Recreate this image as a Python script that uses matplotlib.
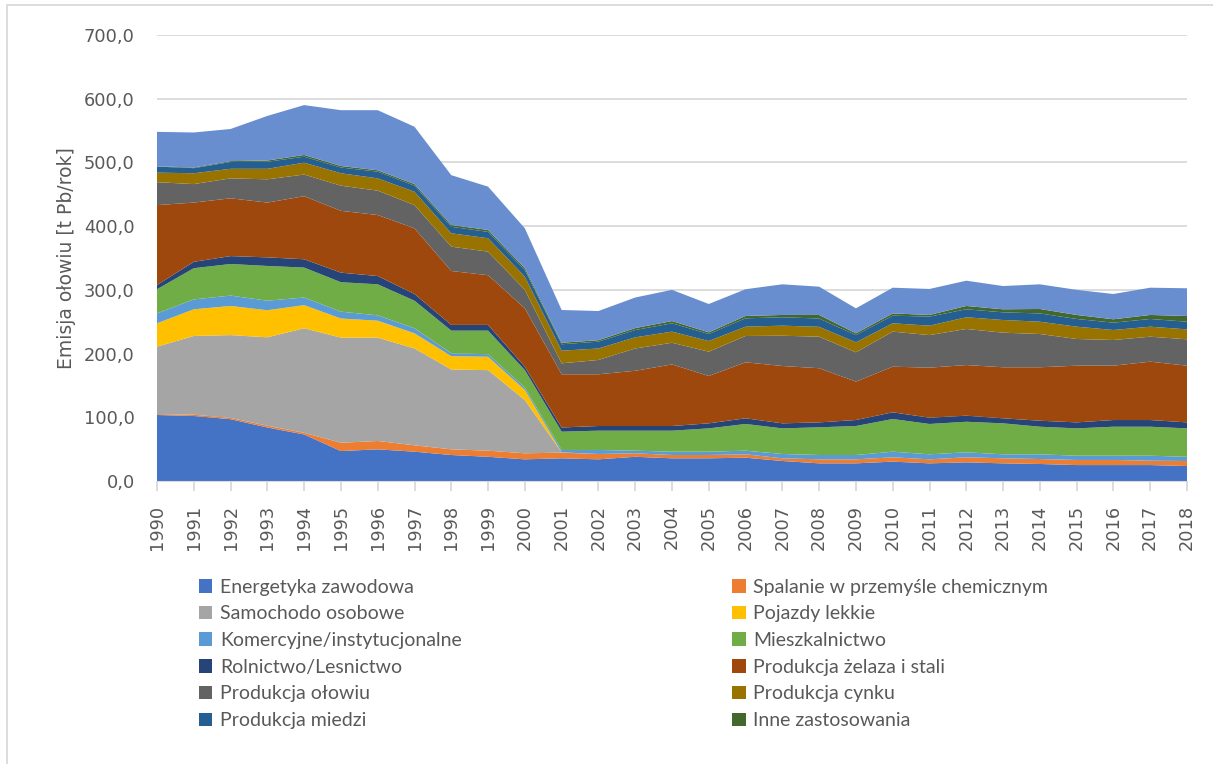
import matplotlib.pyplot as plt
import numpy as np
from matplotlib.patches import Patch, Rectangle
from matplotlib.ticker import FuncFormatter, MultipleLocator

plt.rcParams["font.family"] = ["DejaVu Sans"]

years = list(range(1990, 2019))

# Emission per source [t Pb/rok]
energetyka = [103.6, 102.0, 97.0, 84.0, 73.0, 47.0, 49.7, 46.0, 40.8, 38.0, 34.0, 35.6, 34.0, 38.0,
              35.6, 35.6, 36.6, 31.4, 27.7, 27.7, 30.4, 27.7, 29.3, 27.7, 26.7, 25.0, 25.0, 25.0, 23.5]
spalanie = [1.4, 2.0, 2.0, 2.7, 2.6, 13.0, 13.1, 10.0, 8.9, 9.6, 9.5, 8.9, 8.4, 5.5,
            5.2, 5.2, 5.3, 4.2, 6.3, 6.3, 6.8, 6.3, 7.9, 7.9, 7.8, 8.0, 8.0, 6.9, 7.9]
samochody = [105.8, 123.6, 130.0, 138.8, 164.1, 165.0, 162.2, 152.0, 125.3, 126.4, 83.5, 0.5, 0, 0,
             0, 0, 0, 0, 0, 0, 0, 0, 0, 0, 0, 0, 0, 0, 0]
pojazdy = [36.7, 41.9, 45.7, 42.5, 36.3, 30.0, 26.6, 23.8, 21.0, 21.0, 16.0, 0, 0, 0,
           0, 0, 0, 0, 0, 0, 0, 0, 0, 0, 0, 0, 0, 0, 0]
komercyjne = [15.5, 15.5, 16.3, 15.0, 12.0, 10.8, 8.4, 7.9, 4.4, 4.0, 3.5, 3.7, 6.3, 4.1,
              5.2, 5.2, 5.7, 6.8, 6.8, 6.8, 8.8, 7.9, 7.8, 6.3, 7.4, 6.7, 6.7, 7.8, 6.6]
mieszkalnictwo = [38.0, 49.0, 49.6, 54.5, 47.0, 46.2, 48.7, 43.3, 35.6, 37.0, 27.5, 28.7, 30.3, 31.4,
                  33.0, 36.6, 41.9, 40.2, 43.5, 45.5, 51.3, 47.6, 48.0, 48.6, 43.3, 42.9, 45.5, 45.5, 44.6]
rolnictwo = [6.6, 10.0, 12.4, 13.5, 13.0, 15.0, 13.0, 10.5, 9.0, 9.0, 5.4, 6.6, 7.3, 7.3,
             7.3, 7.9, 8.9, 7.9, 7.7, 9.4, 10.5, 9.9, 9.5, 7.9, 9.4, 9.4, 10.5, 10.5, 9.4]
zelazo = [125.4, 93.0, 90.7, 86.0, 99.0, 97.0, 95.8, 103.1, 84.6, 78.0, 91.6, 83.5, 81.2, 86.7,
          96.7, 74.3, 87.9, 90.0, 85.0, 60.3, 71.6, 78.5, 79.5, 80.1, 83.9, 89.0, 85.3, 91.6, 89.0]
olow = [36.0, 29.0, 31.3, 36.5, 34.0, 39.5, 38.2, 36.4, 38.2, 37.0, 29.0, 17.2, 22.5, 35.0,
        34.0, 38.2, 41.3, 47.5, 49.5, 46.0, 55.0, 51.1, 56.6, 54.3, 52.2, 41.9, 40.3, 39.2, 41.4]
cynk = [15.0, 17.0, 15.0, 16.5, 18.6, 19.5, 19.3, 21.0, 21.0, 21.0, 20.7, 19.8, 18.0, 17.5,
        17.4, 16.7, 14.6, 15.8, 15.5, 15.7, 13.1, 14.8, 18.4, 19.9, 19.3, 19.3, 15.7, 15.7, 15.6]
miedz = [9.5, 8.0, 10.7, 11.0, 9.4, 9.0, 10.5, 9.5, 10.2, 10.0, 10.3, 10.1, 10.7, 11.5,
         13.1, 11.0, 13.1, 13.2, 13.0, 11.3, 12.0, 14.2, 12.5, 12.0, 13.0, 12.1, 11.5, 12.1, 12.0]
inne = [0.5, 1.0, 1.3, 2.0, 2.7, 2.4, 2.2, 2.5, 2.8, 3.0, 3.0, 2.4, 2.3, 3.0,
        3.5, 2.6, 3.7, 3.6, 5.6, 2.8, 3.5, 2.6, 5.2, 4.8, 7.0, 6.3, 5.3, 6.3, 9.0]
# top layer, not listed in the legend
reszta = [54.0, 55.0, 50.5, 70.0, 78.3, 87.6, 94.3, 90.0, 78.2, 68.0, 62.6, 51.4, 45.8, 48.0,
          49.0, 44.5, 42.0, 48.1, 44.4, 39.2, 40.4, 40.8, 39.7, 36.5, 38.7, 39.4, 39.7, 42.8, 43.5]

labels = [
    "Energetyka zawodowa",
    "Spalanie w przemyśle chemicznym",
    "Samochodo osobowe",
    "Pojazdy lekkie",
    "Komercyjne/instytucjonalne",
    "Mieszkalnictwo",
    "Rolnictwo/Lesnictwo",
    "Produkcja żelaza i stali",
    "Produkcja ołowiu",
    "Produkcja cynku",
    "Produkcja miedzi",
    "Inne zastosowania",
]
colors = [
    "#4472C4", "#ED7D31", "#A5A5A5", "#FFC000", "#5B9BD5", "#70AD47",
    "#264478", "#9E480E", "#636363", "#997300", "#255E91", "#43682B",
]
series = [energetyka, spalanie, samochody, pojazdy, komercyjne, mieszkalnictwo,
          rolnictwo, zelazo, olow, cynk, miedz, inne]

text_color = "#595959"
grid_color = "#D9D9D9"

fig = plt.figure(figsize=(12.13, 7.64), dpi=100)
ax = fig.add_axes([157 / 1213, 1 - 481 / 764, 1030 / 1213, 446 / 764])

ax.stackplot(years, *series, reszta, colors=colors + ["#698ED0"], linewidth=0)

ax.set_xlim(1990, 2018)
ax.set_ylim(0, 700)
ax.yaxis.set_major_locator(MultipleLocator(100))
ax.yaxis.set_major_formatter(FuncFormatter(lambda v, p: f"{v:.1f}".replace(".", ",")))
ax.set_xticks(years)
ax.set_xticklabels([str(y) for y in years], rotation=90)

ax.grid(axis="y", color=grid_color, linewidth=1.3)
ax.set_axisbelow(True)
for s in ["top", "right", "left"]:
    ax.spines[s].set_visible(False)
ax.spines["bottom"].set_color(grid_color)
ax.tick_params(axis="y", length=0, pad=16, labelsize=12.8, labelcolor=text_color)
ax.tick_params(axis="x", length=7, color=grid_color, width=1.3, pad=10,
               labelsize=12.8, labelcolor=text_color)
ax.set_ylabel("Emisja ołowiu [t Pb/rok]", fontsize=13.5, color=text_color, labelpad=6)

# legend: row-wise order in two columns
handles = [Patch(facecolor=c, label=l) for c, l in zip(colors, labels)]
order = [0, 2, 4, 6, 8, 10, 1, 3, 5, 7, 9, 11]
fig.legend([handles[i] for i in order], [labels[i] for i in order],
           ncol=2, loc="upper left", bbox_to_anchor=(181 / 1213, 1 - 561 / 764),
           frameon=False, prop={"family": "Lato", "size": 14},
           handlelength=0.7, handleheight=0.7, handletextpad=0.4,
           labelspacing=0.5, columnspacing=13.9, labelcolor=text_color)

# outer chart border
fig.patches.append(Rectangle((7 / 1213, -0.1), 1.1, 1 - 5 / 764 + 0.1, transform=fig.transFigure,
                             fill=False, edgecolor=grid_color, linewidth=1.3))

fig.savefig("out.png", dpi=100)
